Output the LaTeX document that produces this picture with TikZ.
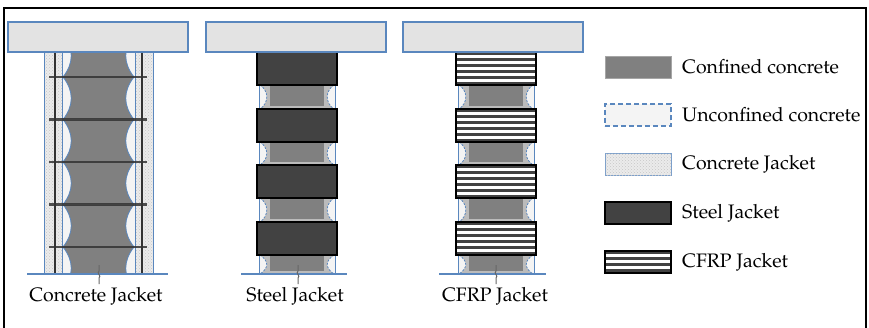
\documentclass[tikz,border=0pt]{standalone}
\usepackage[T1]{fontenc}
\usepackage{mathpazo}
\usetikzlibrary{patterns}

\definecolor{beamgray}{HTML}{E3E3E3}
\definecolor{edgeblue}{HTML}{5A87BE}
\definecolor{coregray}{HTML}{808080}
\definecolor{corelight}{HTML}{BBBBBB}
\definecolor{steelgray}{HTML}{424242}
\definecolor{loosegray}{HTML}{F4F4F4}
\definecolor{jacketgray}{HTML}{EBEBEB}
\definecolor{bargray}{HTML}{333333}

\begin{document}
\begin{tikzpicture}[x=1pt,y=-1pt]

\tikzset{beam/.style = {draw=edgeblue, line width=1.3pt, fill=beamgray, minimum width=180pt, minimum height=30pt, inner sep=0pt}}
\tikzset{steelbox/.style = {draw=black, line width=1.2pt, fill=steelgray, minimum width=80pt, minimum height=33pt, inner sep=0pt}}
\tikzset{cfrpbox/.style = {steelbox, fill=white, path picture={
  \foreach \k in {0,...,5}
    \fill[steelgray] ([yshift=-\k*6pt]path picture bounding box.north west) rectangle ([yshift=-\k*6pt-3pt]path picture bounding box.north east);}}}
\tikzset{jacket/.style = {fill=jacketgray, postaction={pattern=crosshatch dots, pattern color=black!22}}}
\tikzset{arc/.style = {edgeblue, line width=0.8pt}}
\tikzset{brk/.style = {black!60, line width=1pt}}
\tikzset{ground/.style = {edgeblue, line width=1.2pt}}
\tikzset{lbl/.style = {font=\fontsize{19.5}{22}\selectfont, inner sep=0pt}}
\tikzset{key/.style = {minimum width=66pt, minimum height=22pt, inner sep=0pt}}

\useasboundingbox (0,0) rectangle (869,327);
\begin{scope}
\clip (0,0) rectangle (869,327);
\draw[line width=1.8pt] (4,340) -- (4,8) -- (866,8) -- (866,340);
\end{scope}

%concrete jacket column
\fill[jacket] (44,52) rectangle (153,274);
\fill[loosegray] (62,52) rectangle (135,274);
\begin{scope}
\clip (62,52) rectangle (135,274);
\foreach \t in {34.5,77,119.5,162,204.5,247} {
  \fill[coregray] (63,\t) .. controls (74,\t+14) and (74,\t+28.5) .. (63,\t+42.5)
    -- (134,\t+42.5) .. controls (123,\t+28.5) and (123,\t+14) .. (134,\t) -- cycle;
  \draw[arc] (63,\t) .. controls (74,\t+14) and (74,\t+28.5) .. (63,\t+42.5);
  \draw[arc] (134,\t) .. controls (123,\t+14) and (123,\t+28.5) .. (134,\t+42.5);
}
\end{scope}
\foreach \x in {44,62,135,153}
  \draw[edgeblue, line width=1pt] (\x,52) -- (\x,274);
\foreach \x in {55,142}
  \draw[bargray, line width=2.5pt] (\x,52) -- (\x,274);
\foreach \y in {77,119.5,162,204.5,247}
  \draw[bargray, line width=2.5pt, opacity=0.85] (49,\y) -- (147,\y);

%steel and cfrp columns
\foreach \cx in {297,496} {
  \fill[loosegray] (\cx-38,52) rectangle (\cx+38,274);
  \foreach \a/\b in {85/109,142/165,198/222,255/274} {
    \fill[corelight] (\cx-37,\a) .. controls (\cx-28,\a+6) and (\cx-28,\b-6) .. (\cx-37,\b)
      -- (\cx+37,\b) .. controls (\cx+28,\b-6) and (\cx+28,\a+6) .. (\cx+37,\a) -- cycle;
    \fill[coregray] (\cx-27,\a) rectangle (\cx+27,\b-3);
    \draw[arc, dash pattern=on 2pt off 1.5pt] (\cx-37,\a) .. controls (\cx-28,\a+6) and (\cx-28,\b-6) .. (\cx-37,\b);
    \draw[arc, dash pattern=on 2pt off 1.5pt] (\cx+37,\a) .. controls (\cx+28,\a+6) and (\cx+28,\b-6) .. (\cx+37,\b);
  }
  \draw[edgeblue, line width=1pt] (\cx-38,52) -- (\cx-38,274) (\cx+38,52) -- (\cx+38,274);
}
\foreach \y [count=\i] in {68.5,125.5,181.5,238.5} {
  \node[steelbox] (s\i) at (297,\y) {};
  \node[cfrpbox] (f\i) at (496,\y) {};
}

%beams
\node[beam] (beamA) at (98,37) {};
\node[beam] (beamB) at (296,37) {};
\node[beam] (beamC) at (493,37) {};

%ground and break marks
\draw[ground] (27,274) -- (168,274);
\draw[ground] (241,274) -- (347,274);
\draw[ground] (439,274) -- (546,274);
\foreach \x in {99,298,496}
  \draw[brk] (\x,265) -- (\x,271) .. controls (\x-3,273) and (\x+3,276) .. (\x,278) -- (\x,284);

%labels
\node[lbl] (capA) at (96,296) {Concrete Jacket};
\node[lbl] (capB) at (295,296) {Steel Jacket};
\node[lbl] (capC) at (495,296) {CFRP Jacket};

%legend
\node[key, fill=coregray, draw=black!35] (k1) at (638,67) {};
\node[key, fill=loosegray, draw=edgeblue, line width=1.3pt, dash pattern=on 5pt off 3pt] (k2) at (638,115) {};
\node[key, jacket, draw=edgeblue!80, line width=1pt] (k3) at (638,164) {};
\node[key, fill=steelgray, draw=black, line width=1.4pt] (k4) at (638,213) {};
\node[cfrpbox, key, line width=1.4pt] (k5) at (638,262) {};
\node[lbl, anchor=west] (t1) at (682,67) {Confined concrete};
\node[lbl, anchor=west] (t2) at (682,115) {Unconfined concrete};
\node[lbl, anchor=west] (t3) at (682,164) {Concrete Jacket};
\node[lbl, anchor=west] (t4) at (682,213) {Steel Jacket};
\node[lbl, anchor=west] (t5) at (682,262) {CFRP Jacket};

\end{tikzpicture}
\end{document}
